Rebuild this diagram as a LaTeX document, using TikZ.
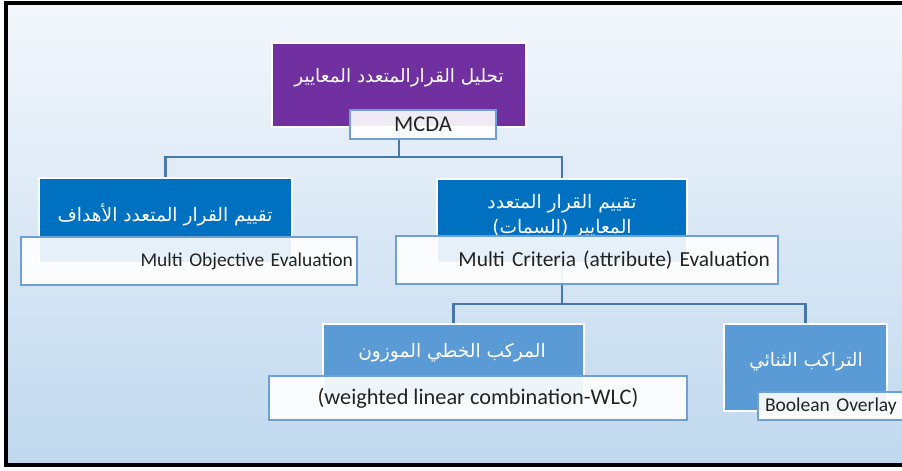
\documentclass[tikz,border=0pt]{standalone}
\usepackage{fontspec}
\setmainfont{Carlito}
\newfontfamily\arabicfont[Script=Arabic]{DejaVu Sans}
\TeXXeTstate=1

\definecolor{mcdapurple}{RGB}{112,48,160}
\definecolor{darkblue}{RGB}{0,112,192}
\definecolor{lightblue}{RGB}{91,155,213}
\definecolor{boxline}{RGB}{110,160,215}
\definecolor{linkblue}{RGB}{70,120,172}
\definecolor{bgtop}{RGB}{243,247,252}
\definecolor{bgbot}{RGB}{192,216,238}
\definecolor{textgray}{RGB}{35,35,35}

\tikzset{
  bluebox/.style={draw=white, line width=0.8pt, inner sep=0pt},
  namebox/.style={draw=boxline, line width=0.8pt, fill=white, fill opacity=0.9,
    text opacity=1, text=textgray, inner sep=0pt, font=\fontsize{11.1}{13}\selectfont},
  artext/.style={text=white, font=\arabicfont\fontsize{10.6}{14.5}\selectfont},
  link/.style={draw=linkblue, line width=1.2pt},
}

\begin{document}
\begin{tikzpicture}[x=0.02cm,y=-0.02cm]

   \useasboundingbox (0,0) rectangle (902,470);
   \fill[white] (0,0) rectangle (902,470);
   \shade[top color=bgtop, bottom color=bgbot] (6,3) rectangle (902,466);
   \draw[line width=2.3pt] (902,3) -- (6,3) -- (6,465) -- (902,465);

   % blue boxes
   \node (top) at (399,85) [bluebox, fill=mcdapurple, minimum width=5.08cm, minimum height=1.68cm] {};
   \node (objbox) at (165.5,220.5) [bluebox, fill=darkblue, minimum width=5.06cm, minimum height=1.7cm] {};
   \node (critbox) at (562,221) [bluebox, fill=darkblue, minimum width=5.0cm, minimum height=1.68cm] {};
   \node (wlcbox) at (453.5,362) [bluebox, fill=lightblue, minimum width=5.22cm, minimum height=1.52cm] {};
   \node (boolbox) at (805.5,367.5) [bluebox, fill=lightblue, minimum width=3.26cm, minimum height=1.74cm] {};

   \node (toptxt) at (399,78) [artext, font=\arabicfont\fontsize{10.5}{14}\selectfont] {\beginR تحليل القرارالمتعدد المعايير\endR};
   \node (objtxt) at (165,215) [artext] {\beginR تقييم القرار المتعدد الأهداف\endR};
   \node (crittxt) at (562,216) [artext, align=center] {\beginR تقييم القرار المتعدد\endR\\\beginR المعايير (السمات)\endR};
   \node (wlctxt) at (452,353) [artext] {\beginR المركب الخطي الموزون\endR};
   \node (booltxt) at (806,362) [artext] {\beginR التراكب الثنائي\endR};

   % connectors
   \coordinate (split1) at (399,157);
   \coordinate (split2) at (562,304);

   \draw [link] (top.south) -- (split1) -| (objbox.north);
   \draw [link] (split1) -| (critbox.north);
   \draw [link] (critbox.south) -- (split2) -| (wlcbox.north);
   \draw [link] (split2) -| (boolbox.north);

   % name boxes
   \node (mcda) at (423,124.5) [namebox, font=\fontsize{12.8}{14}\selectfont, minimum width=2.92cm, minimum height=0.58cm] {MCDA};
   \node (objname) at (189,261) [namebox, minimum height=0.96cm, text width=6.56cm, inner xsep=0.08cm, align=right] {Multi Objective Evaluation};
   \node (critname) at (587,260) [namebox, font=\fontsize{12.2}{14}\selectfont, minimum height=0.96cm, text width=7.32cm, inner xsep=0.16cm, align=right] {Multi Criteria (attribute) Evaluation};
   \node (wlcname) at (478,398) [namebox, font=\fontsize{12.7}{14}\selectfont, minimum width=8.36cm, minimum height=0.88cm] {(weighted linear combination-WLC)};
   \node (boolname) at (831.5,406) [namebox, minimum height=0.56cm, text width=2.66cm, inner xsep=0.14cm, align=left] {Boolean Overlay};

\end{tikzpicture}
\end{document}
